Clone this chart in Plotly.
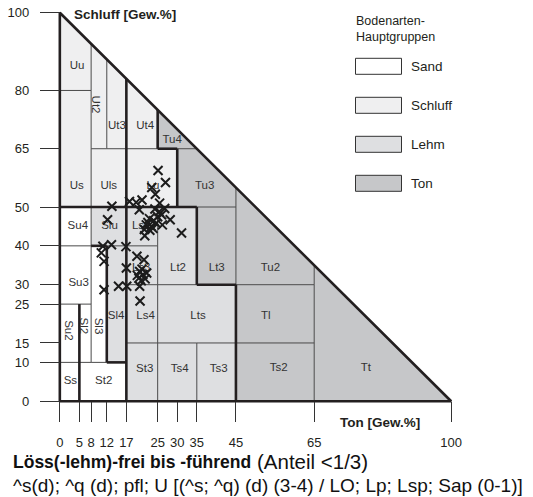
import plotly.graph_objects as go

# ---------------------------------------------------------------------------
# Bodenarten (KA5) im Ton/Schluff-Feld, als Rechtecke [Ton von..bis, Schluff von..bis]
# (werden an der Diagonalen Ton + Schluff = 100 abgeschnitten)
# ---------------------------------------------------------------------------
BODENART = ["Uu", "Ut2", "Ut3", "Ut4", "Tu4", "Us", "Uls", "Lu", "Tu3", "Su4",
            "Slu", "Ls2", "Lt2", "Lt3", "Tu2", "Su3", "Ls3", "Sl3", "Sl4", "Su2",
            "Sl2", "Ls4", "Lts", "Tl", "St3", "Ts4", "Ts3", "Ts2", "Tt", "Ss", "St2"]
TON_VON = [0, 8, 12, 17, 25, 0, 8, 17, 30, 0,
           8, 17, 25, 35, 45, 0, 17, 8, 12, 0,
           5, 17, 25, 45, 17, 25, 35, 45, 65, 0, 5]
TON_BIS = [8, 12, 17, 25, 35, 8, 17, 30, 45, 8,
           17, 25, 35, 45, 65, 8, 25, 12, 17, 5,
           8, 25, 45, 65, 25, 35, 45, 65, 100, 5, 17]
SCHLUFF_VON = [80, 65, 65, 65, 65, 50, 50, 50, 50, 40,
               40, 40, 30, 30, 30, 25, 30, 10, 10, 10,
               10, 15, 15, 15, 0, 0, 0, 0, 0, 0, 0]
SCHLUFF_BIS = [100, 100, 100, 100, 100, 80, 65, 65, 65, 50,
               50, 50, 50, 50, 100, 40, 40, 40, 40, 25,
               25, 30, 30, 30, 15, 15, 15, 15, 100, 10, 10]
HAUPTGRUPPE = ["Schluff", "Schluff", "Schluff", "Schluff", "Ton", "Schluff", "Schluff", "Schluff", "Ton", "Sand",
               "Lehm", "Lehm", "Lehm", "Ton", "Ton", "Sand", "Lehm", "Sand", "Lehm", "Sand",
               "Sand", "Lehm", "Lehm", "Ton", "Lehm", "Lehm", "Lehm", "Ton", "Ton", "Sand", "Sand"]

# Hervorgehobene Grenzen (Ton von, Schluff von, Ton bis, Schluff bis)
DICKE_GRENZEN = [(5, 0, 5, 25), (12, 10, 12, 40), (8, 40, 12, 40), (12, 10, 17, 10),
                 (17, 0, 17, 83), (0, 50, 35, 50), (25, 65, 25, 75), (25, 65, 30, 65),
                 (30, 50, 30, 65), (35, 30, 35, 50), (35, 30, 45, 30), (45, 0, 45, 30)]

# Proben: Ton- und Schluffgehalt [Gew.%]
PROBE_TON = [25.1, 27.0, 23.5, 24.4, 13.3, 17.8, 19.5, 21.0, 20.3, 25.5,
             26.8, 25.4, 28.2, 26.2, 22.9, 22.1, 23.4, 24.6, 21.7, 31.1,
             12.2, 23.0, 24.0, 22.5, 25.0, 23.8, 21.6, 24.3, 26.0,
             13.2, 11.0, 16.9, 10.6, 11.3, 19.7, 21.5, 17.0, 20.4, 21.2,
             20.2, 22.2, 21.0, 19.8, 21.8, 20.8, 15.0, 17.1, 20.4, 11.3, 20.5]
PROBE_SCHLUFF = [59.4, 56.3, 55.0, 53.3, 50.2, 51.4, 51.2, 51.8, 49.3, 51.0,
                 49.6, 48.8, 46.7, 45.4, 47.0, 45.4, 45.0, 45.8, 42.6, 43.3,
                 46.7, 44.0, 46.5, 46.0, 47.5, 44.5, 44.2, 49.5, 48.0,
                 40.3, 39.9, 39.8, 38.2, 36.0, 37.3, 36.4, 34.3, 33.4, 32.6,
                 31.7, 33.0, 34.0, 32.4, 31.5, 31.0, 29.6, 29.6, 29.6, 28.7, 25.8]

TON_TICKS = [0, 5, 8, 12, 17, 25, 30, 35, 45, 65, 100]
SCHLUFF_TICKS = [0, 10, 15, 25, 30, 40, 50, 65, 80, 100]
LEGENDE = ["Sand", "Schluff", "Lehm", "Ton"]

# ---------------------------------------------------------------------------
# Darstellung
# ---------------------------------------------------------------------------
FONT = "Liberation Sans, Arial, Helvetica, sans-serif"
INK = "#231f20"
FILL = {"Sand": "#ffffff", "Schluff": "#efeff0", "Lehm": "#dedfe1", "Ton": "#c6c7c9"}

W, H = 533, 497
ML, MR, MT, MB = 52, 74, 5, 88
PAD = 2.0                       # Achsenbereich über das Dreieck hinaus
PW, PH = W - ML - MR, H - MT - MB


def px(x):
    """Pixelspalte -> Papierkoordinate."""
    return (x - ML) / PW


def py(y):
    """Pixelzeile -> Papierkoordinate."""
    return (H - MB - y) / PH


def clip_rect(t0, t1, u0, u1):
    """Rechteck geschnitten mit der Halbebene Ton + Schluff <= 100."""
    corners = [(t0, u0), (t0, u1), (t1, u1), (t1, u0)]
    out = []
    for i in range(4):
        p, q = corners[i], corners[(i + 1) % 4]
        fp, fq = p[0] + p[1] - 100, q[0] + q[1] - 100
        if fp <= 1e-9:
            out.append(p)
        if (fp <= 1e-9) != (fq <= 1e-9):
            s = fp / (fp - fq)
            out.append((p[0] + s * (q[0] - p[0]), p[1] + s * (q[1] - p[1])))
    return out


def shared_edges(i, j):
    segs = []
    for ta, tb in ((TON_BIS[i], TON_VON[j]), (TON_VON[i], TON_BIS[j])):
        if ta == tb:
            lo = max(SCHLUFF_VON[i], SCHLUFF_VON[j])
            hi = min(SCHLUFF_BIS[i], SCHLUFF_BIS[j], 100 - ta)
            if hi > lo:
                segs.append(((ta, lo), (ta, hi)))
    for ua, ub in ((SCHLUFF_BIS[i], SCHLUFF_VON[j]), (SCHLUFF_VON[i], SCHLUFF_BIS[j])):
        if ua == ub:
            lo = max(TON_VON[i], TON_VON[j])
            hi = min(TON_BIS[i], TON_BIS[j], 100 - ua)
            if hi > lo:
                segs.append(((lo, ua), (hi, ua)))
    return segs


fig = go.Figure()

# Flächen der Bodenarten
for k, name in enumerate(BODENART):
    poly = clip_rect(TON_VON[k], TON_BIS[k], SCHLUFF_VON[k], SCHLUFF_BIS[k])
    fig.add_trace(go.Scatter(
        x=[p[0] for p in poly] + [poly[0][0]],
        y=[p[1] for p in poly] + [poly[0][1]],
        mode="lines", fill="toself", fillcolor=FILL[HAUPTGRUPPE[k]],
        line=dict(width=0), hoverinfo="skip", showlegend=False, name=name))

# dünne Grenzen zwischen benachbarten Bodenarten
thin_x, thin_y = [], []
n = len(BODENART)
for i in range(n):
    for j in range(i + 1, n):
        for (a, b) in shared_edges(i, j):
            thin_x += [a[0], b[0], None]
            thin_y += [a[1], b[1], None]
fig.add_trace(go.Scatter(x=thin_x, y=thin_y, mode="lines",
                         line=dict(color="#4a4a4a", width=1),
                         hoverinfo="skip", showlegend=False))

# hervorgehobene Grenzen
thick_x, thick_y = [], []
for t0, u0, t1, u1 in DICKE_GRENZEN:
    thick_x += [t0, t1, None]
    thick_y += [u0, u1, None]
fig.add_trace(go.Scatter(x=thick_x, y=thick_y, mode="lines",
                         line=dict(color=INK, width=2.6),
                         hoverinfo="skip", showlegend=False))
# Dreiecksrahmen
fig.add_trace(go.Scatter(x=[0, 0, 100, 0], y=[0, 100, 0, 0], mode="lines",
                         line=dict(color=INK, width=2.6),
                         hoverinfo="skip", showlegend=False))

# Beschriftung der Bodenarten
LABEL_POS = {
    "Uu": (4.4, 86.2), "Ut3": (14.6, 70.7), "Ut4": (21.8, 70.7), "Tu4": (28.7, 67.1),
    "Us": (4.35, 55.5), "Uls": (12.5, 55.5), "Lu": (23.8, 55.3), "Tu3": (37.0, 55.5),
    "Su4": (4.6, 45.2), "Slu": (12.7, 45.2), "Ls2": (20.8, 45.2),
    "Lt2": (30.2, 34.3), "Lt3": (40.1, 34.3), "Tu2": (53.8, 34.3),
    "Su3": (4.8, 30.4), "Ls3": (20.8, 34.3),
    "Sl4": (14.4, 22.0), "Ls4": (21.9, 22.0), "Lts": (35.3, 22.0), "Tl": (52.6, 21.9),
    "St3": (21.7, 8.3), "Ts4": (30.6, 8.3), "Ts3": (40.6, 8.3), "Ts2": (55.9, 8.4),
    "Tt": (78.2, 8.4), "Ss": (2.7, 5.1), "St2": (11.2, 5.1),
}
ROTATED_POS = {"Ut2": (9.3, 76.3), "Su2": (2.5, 18.4), "Sl2": (6.1, 19.3), "Sl3": (9.9, 19.3)}

names = list(LABEL_POS)
fig.add_trace(go.Scatter(
    x=[LABEL_POS[k][0] for k in names], y=[LABEL_POS[k][1] for k in names],
    text=names, mode="text", textposition="middle center",
    textfont=dict(family=FONT, size=11.5, color="#333333"),
    hoverinfo="skip", showlegend=False))

# Proben
fig.add_trace(go.Scatter(
    x=PROBE_TON, y=PROBE_SCHLUFF, mode="markers",
    marker=dict(symbol="x-thin", size=9, line=dict(width=2, color="#1c1c1c")),
    showlegend=False, name="Proben"))

annotations = []
for k, (t, u) in ROTATED_POS.items():
    annotations.append(dict(x=t, y=u, xref="x", yref="y", text=k, textangle=90,
                            showarrow=False, font=dict(family=FONT, size=11.5, color="#333333")))


def note(x, y, text, size, color=INK, **kw):
    annotations.append(dict(x=px(x), y=py(y), xref="paper", yref="paper",
                            xanchor="left", yanchor="middle", text=text, showarrow=False,
                            font=dict(family=FONT, size=size, color=color), **kw))


# Achsentitel
note(72, 14.5, "<b>Schluff [Gew.%]</b>", 13.5)
note(338, 422.5, "<b>Ton [Gew.%]</b>", 13.5)

# Legende der Hauptgruppen
note(354, 29, "Bodenarten-<br>Hauptgruppen", 12.5, align="left")
shapes = []
for i, g in enumerate(LEGENDE):
    top = 58.3 + 39.0 * i
    shapes.append(dict(type="rect", xref="paper", yref="paper",
                       x0=px(355.5), x1=px(401.5), y0=py(top + 16), y1=py(top),
                       fillcolor=FILL[g], line=dict(color="#333333", width=1)))
    note(409, top + 8, g, 13.5)

# Untertitel
note(11, 461.5, "<b>Löss(-lehm)-frei bis -führend</b>", 17.5, color="#111111")
note(255, 461.5, "(Anteil &lt;1/3)", 20.5, color="#111111")
note(11, 485.5, "^s(d); ^q (d); pfl; U [(^s; ^q) (d) (3-4) / LO; Lp; Lsp; Sap (0-1)]",
     19, color="#111111")

pos = PAD / (100 + 2 * PAD)
axis_common = dict(showgrid=False, zeroline=False, showline=False, ticks="outside",
                   ticklen=20, tickwidth=1, tickcolor="#333333", fixedrange=True,
                   tickfont=dict(family=FONT, size=13, color=INK),
                   range=[-PAD, 100 + PAD], anchor="free", position=pos)

fig.update_layout(
    width=W, height=H,
    margin=dict(l=ML, r=MR, t=MT, b=MB, pad=0),
    paper_bgcolor="white", plot_bgcolor="white",
    xaxis=dict(tickvals=TON_TICKS, ticktext=[str(v) for v in TON_TICKS],
               ticklabelstandoff=9, **axis_common),
    yaxis=dict(tickvals=SCHLUFF_TICKS, ticktext=[str(v) for v in SCHLUFF_TICKS],
               ticklabelstandoff=8, **axis_common),
    shapes=shapes, annotations=annotations, showlegend=False,
)

fig.write_html("out.html")
